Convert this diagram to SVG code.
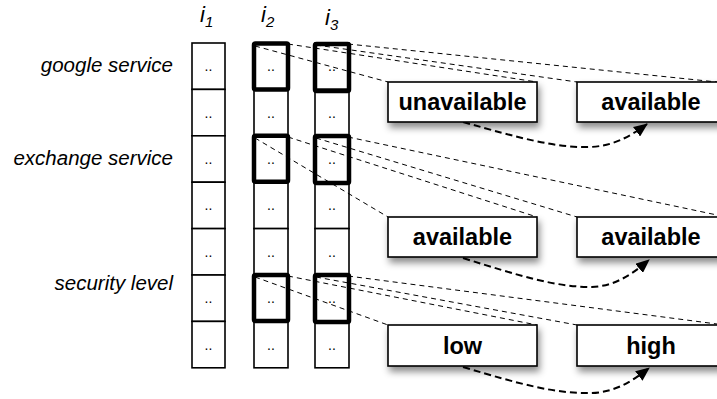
<svg xmlns="http://www.w3.org/2000/svg" width="717" height="399" viewBox="0 0 717 399">
<style>
.cell{fill:#fff;stroke:#000;stroke-width:1.6}
.thick{fill:none;stroke:#000;stroke-width:4.5}
.dots{font-family:"Liberation Sans",Arial,sans-serif;font-size:14px;text-anchor:middle;fill:#000}
.lbl{font-family:"Liberation Sans",Arial,sans-serif;font-style:italic;font-size:20.5px;text-anchor:end;fill:#000}
.col{font-family:"Liberation Sans",Arial,sans-serif;font-style:italic;font-size:22px;fill:#000}
.sub{font-size:15px}
.box{fill:#fff;stroke:#000;stroke-width:1.6}
.btxt{font-family:"Liberation Sans",Arial,sans-serif;font-weight:bold;font-size:23.5px;text-anchor:middle;fill:#000}
.proj{fill:none;stroke:#000;stroke-width:1;stroke-dasharray:5 4}
.arr{fill:none;stroke:#000;stroke-width:2;stroke-dasharray:7 4}
</style>
<defs>
<filter id="sh" x="-20%" y="-30%" width="140%" height="180%">
<feDropShadow dx="2" dy="5" stdDeviation="3.5" flood-color="#000" flood-opacity="0.45"/>
</filter>
<marker id="ah" markerUnits="userSpaceOnUse" markerWidth="14" markerHeight="12" viewBox="0 0 14 12" refX="13" refY="6" orient="auto">
<path d="M0,0 L14,6 L0,12 z" fill="#000"/>
</marker>
</defs>
<rect width="717" height="399" fill="#fff"/>

<g id="row-labels">
<text class="lbl" x="173" y="72">google service</text>
<text class="lbl" x="173" y="165">exchange service</text>
<text class="lbl" x="173" y="290">security level</text>
</g>

<g id="col-labels">
<text class="col" x="200" y="22">i<tspan class="sub" dy="5">1</tspan></text>
<text class="col" x="261" y="22">i<tspan class="sub" dy="5">2</tspan></text>
<text class="col" x="325" y="25">i<tspan class="sub" dy="5">3</tspan></text>
</g>

<g id="col-i1">
<rect class="cell" x="192" y="43" width="33" height="46.4"/>
<rect class="cell" x="192" y="89.4" width="33" height="46.4"/>
<rect class="cell" x="192" y="135.8" width="33" height="46.4"/>
<rect class="cell" x="192" y="182.2" width="33" height="46.4"/>
<rect class="cell" x="192" y="228.6" width="33" height="46.4"/>
<rect class="cell" x="192" y="275" width="33" height="46.4"/>
<rect class="cell" x="192" y="321.4" width="33" height="46.4"/>
<g class="dots">
<text x="208.5" y="71">..</text><text x="208.5" y="117.5">..</text><text x="208.5" y="164">..</text><text x="208.5" y="210">..</text><text x="208.5" y="256.5">..</text><text x="208.5" y="303">..</text><text x="208.5" y="349.5">..</text>
</g>
</g>

<g id="col-i2">
<rect class="cell" x="254" y="43" width="34" height="46.4"/>
<rect class="cell" x="254" y="89.4" width="34" height="46.4"/>
<rect class="cell" x="254" y="135.8" width="34" height="46.4"/>
<rect class="cell" x="254" y="182.2" width="34" height="46.4"/>
<rect class="cell" x="254" y="228.6" width="34" height="46.4"/>
<rect class="cell" x="254" y="275" width="34" height="46.4"/>
<rect class="cell" x="254" y="321.4" width="34" height="46.4"/>
<g class="dots">
<text x="271" y="71">..</text><text x="271" y="117.5">..</text><text x="271" y="164">..</text><text x="271" y="210">..</text><text x="271" y="256.5">..</text><text x="271" y="303">..</text><text x="271" y="349.5">..</text>
</g>
<rect class="thick" x="254" y="43.5" width="34" height="46" rx="1.5"/>
<rect class="thick" x="254" y="135.8" width="34" height="46" rx="1.5"/>
<rect class="thick" x="254" y="275" width="34" height="46" rx="1.5"/>
</g>

<g id="col-i3">
<rect class="cell" x="315" y="43" width="34" height="46.4"/>
<rect class="cell" x="315" y="89.4" width="34" height="46.4"/>
<rect class="cell" x="315" y="135.8" width="34" height="46.4"/>
<rect class="cell" x="315" y="182.2" width="34" height="46.4"/>
<rect class="cell" x="315" y="228.6" width="34" height="46.4"/>
<rect class="cell" x="315" y="275" width="34" height="46.4"/>
<rect class="cell" x="315" y="321.4" width="34" height="46.4"/>
<g class="dots">
<text x="332" y="71">..</text><text x="332" y="117.5">..</text><text x="332" y="164">..</text><text x="332" y="210">..</text><text x="332" y="256.5">..</text><text x="332" y="303">..</text><text x="332" y="349.5">..</text>
</g>
<rect class="thick" x="315" y="44" width="34" height="47" rx="1.5"/>
<rect class="thick" x="315" y="136" width="34" height="47" rx="1.5"/>
<rect class="thick" x="315" y="275" width="34" height="47" rx="1.5"/>
</g>

<g id="connectors">
<line class="proj" x1="255" y1="46" x2="388" y2="82"/>
<line class="proj" x1="288" y1="44" x2="537" y2="82"/>
<line class="proj" x1="316" y1="45" x2="577" y2="82"/>
<line class="proj" x1="348" y1="44" x2="717" y2="82"/>
<line class="proj" x1="255" y1="138" x2="388" y2="217"/>
<line class="proj" x1="288" y1="137" x2="537" y2="217"/>
<line class="proj" x1="316" y1="138" x2="577" y2="217"/>
<line class="proj" x1="348" y1="137" x2="717" y2="215"/>
<line class="proj" x1="255" y1="277" x2="388" y2="325"/>
<line class="proj" x1="288" y1="276" x2="537" y2="325"/>
<line class="proj" x1="316" y1="277" x2="577" y2="325"/>
<line class="proj" x1="348" y1="276" x2="717" y2="324"/>
<path class="arr" d="M463,122 C520,138 555,148 590,147 C612,146 628,138 647,124" marker-end="url(#ah)"/>
<path class="arr" d="M463,258 C520,276 555,287 592,287 C614,286 630,276 649,260" marker-end="url(#ah)"/>
<path class="arr" d="M463,367 C520,384 555,394 592,393 C614,392 630,383 649,368" marker-end="url(#ah)"/>
</g>

<g id="box-unavailable">
<rect class="box" x="388" y="82" width="149" height="40" filter="url(#sh)"/>
<text class="btxt" x="462.5" y="110">unavailable</text>
</g>
<g id="box-available-1">
<rect class="box" x="577" y="82" width="149" height="40" filter="url(#sh)"/>
<text class="btxt" x="651" y="110">available</text>
</g>
<g id="box-available-2">
<rect class="box" x="388" y="217" width="149" height="40" filter="url(#sh)"/>
<text class="btxt" x="462.5" y="245">available</text>
</g>
<g id="box-available-3">
<rect class="box" x="577" y="217" width="149" height="40" filter="url(#sh)"/>
<text class="btxt" x="651" y="245">available</text>
</g>
<g id="box-low">
<rect class="box" x="388" y="325" width="149" height="41" filter="url(#sh)"/>
<text class="btxt" x="462.5" y="354">low</text>
</g>
<g id="box-high">
<rect class="box" x="577" y="325" width="149" height="41" filter="url(#sh)"/>
<text class="btxt" x="651" y="354">high</text>
</g>
</svg>
